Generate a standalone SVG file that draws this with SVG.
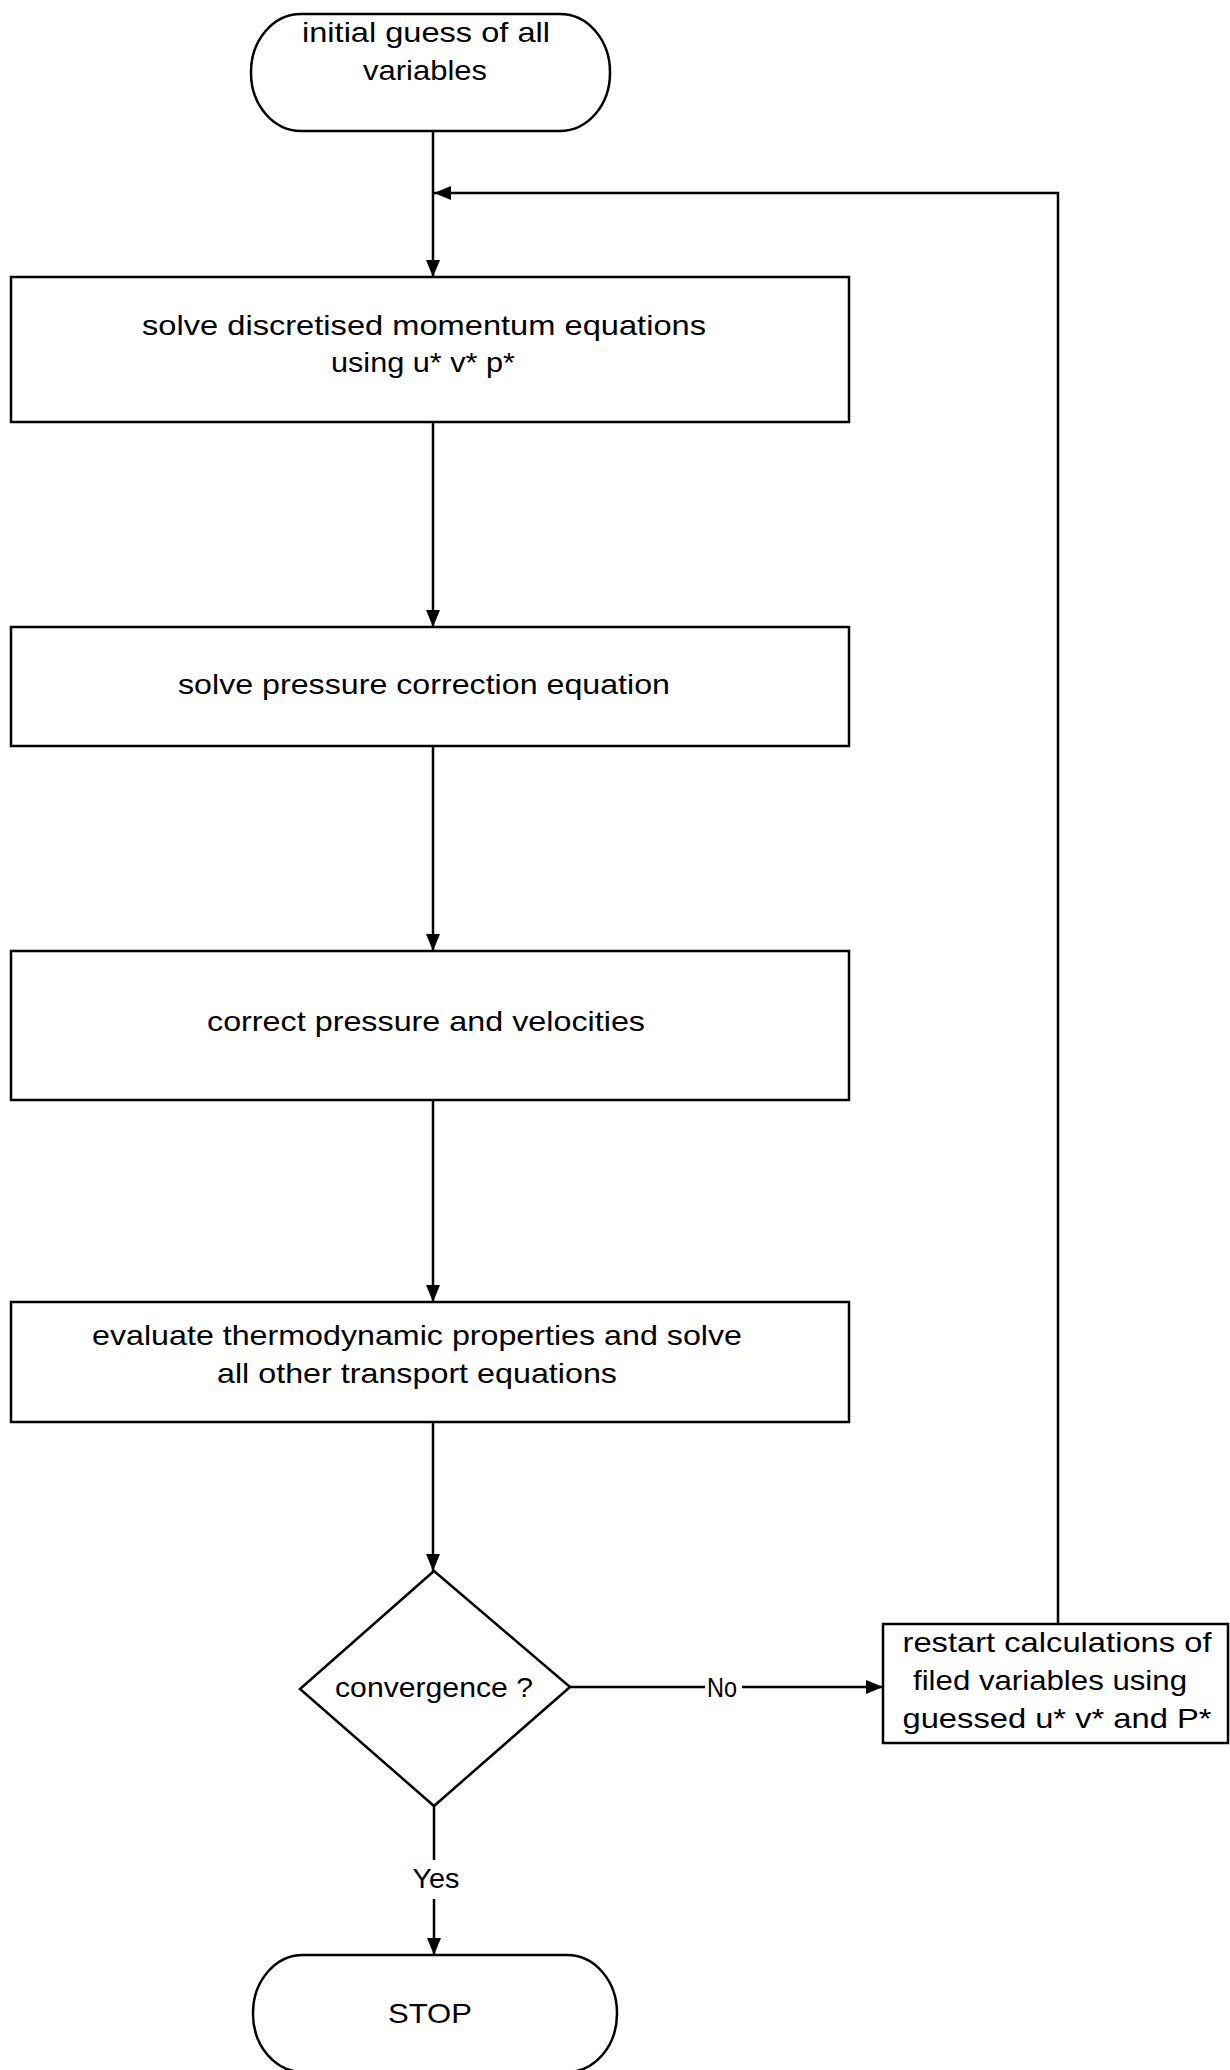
<svg xmlns="http://www.w3.org/2000/svg" width="1230" height="2070" viewBox="0 0 1230 2070">
  <style>
    .shape { fill: #ffffff; stroke: #000000; stroke-width: 2.5; }
    .wire { fill: none; stroke: #000000; stroke-width: 2.5; }
    .label { font-family: "Liberation Sans", Arial, sans-serif; font-size: 28px; fill: #000000; text-anchor: middle; }
  </style>
  <defs>
    <marker id="arrow" viewBox="0 0 17 14" refX="17" refY="7" markerWidth="17" markerHeight="14" markerUnits="userSpaceOnUse" orient="auto">
      <path d="M0,0 L17,7 L0,14 Z" fill="#000000"/>
    </marker>
  </defs>
  <rect width="1230" height="2070" fill="#ffffff"/>

  <!-- flow connectors -->
  <g id="connectors">
    <line class="wire" x1="433" y1="131" x2="433" y2="277" marker-end="url(#arrow)"/>
    <line class="wire" x1="433" y1="422" x2="433" y2="627" marker-end="url(#arrow)"/>
    <line class="wire" x1="433" y1="746" x2="433" y2="951" marker-end="url(#arrow)"/>
    <line class="wire" x1="433" y1="1100" x2="433" y2="1302" marker-end="url(#arrow)"/>
    <line class="wire" x1="433" y1="1422" x2="433" y2="1571" marker-end="url(#arrow)"/>
    <!-- No branch -->
    <line class="wire" x1="570" y1="1687" x2="705" y2="1687"/>
    <line class="wire" x1="742" y1="1687" x2="883" y2="1687" marker-end="url(#arrow)"/>
    <text class="label" x="722" y="1697" textLength="30" lengthAdjust="spacingAndGlyphs">No</text>
    <!-- Yes branch -->
    <line class="wire" x1="434" y1="1806" x2="434" y2="1860"/>
    <line class="wire" x1="434" y1="1899" x2="434" y2="1955" marker-end="url(#arrow)"/>
    <text class="label" x="436" y="1888" textLength="47" lengthAdjust="spacingAndGlyphs">Yes</text>
    <!-- loop back to the momentum step -->
    <polyline class="wire" points="1058,1624 1058,193 434,193" marker-end="url(#arrow)"/>
  </g>

  <g id="start">
    <rect class="shape" x="251" y="14" width="359" height="117" rx="50" ry="58"/>
    <text class="label" x="426" y="42" textLength="248" lengthAdjust="spacingAndGlyphs">initial guess of all</text>
    <text class="label" x="425" y="80" textLength="124" lengthAdjust="spacingAndGlyphs">variables</text>
  </g>

  <g id="momentum">
    <rect class="shape" x="11" y="277" width="838" height="145"/>
    <text class="label" x="424" y="335" textLength="564" lengthAdjust="spacingAndGlyphs">solve discretised momentum equations</text>
    <text class="label" x="423" y="372" textLength="184" lengthAdjust="spacingAndGlyphs">using u* v* p*</text>
  </g>

  <g id="pressure-correction">
    <rect class="shape" x="11" y="627" width="838" height="119"/>
    <text class="label" x="424" y="694" textLength="492" lengthAdjust="spacingAndGlyphs">solve pressure correction equation</text>
  </g>

  <g id="correct">
    <rect class="shape" x="11" y="951" width="838" height="149"/>
    <text class="label" x="426" y="1031" textLength="438" lengthAdjust="spacingAndGlyphs">correct pressure and velocities</text>
  </g>

  <g id="transport">
    <rect class="shape" x="11" y="1302" width="838" height="120"/>
    <text class="label" x="417" y="1345" textLength="650" lengthAdjust="spacingAndGlyphs">evaluate thermodynamic properties and solve</text>
    <text class="label" x="417" y="1383" textLength="400" lengthAdjust="spacingAndGlyphs">all other transport equations</text>
  </g>

  <g id="convergence">
    <polygon class="shape" points="434,1571 570,1687 434,1806 300,1689"/>
    <text class="label" x="434" y="1697" textLength="198" lengthAdjust="spacingAndGlyphs">convergence ?</text>
  </g>

  <g id="restart">
    <rect class="shape" x="883" y="1624" width="345" height="119"/>
    <text class="label" x="1057" y="1652" textLength="309" lengthAdjust="spacingAndGlyphs">restart calculations of</text>
    <text class="label" x="1050" y="1690" textLength="274" lengthAdjust="spacingAndGlyphs">filed variables using</text>
    <text class="label" x="1057" y="1728" textLength="309" lengthAdjust="spacingAndGlyphs">guessed u* v* and P*</text>
  </g>

  <g id="stop">
    <rect class="shape" x="253" y="1955" width="364" height="117" rx="50" ry="58"/>
    <text class="label" x="430" y="2023" textLength="84" lengthAdjust="spacingAndGlyphs">STOP</text>
  </g>
</svg>
